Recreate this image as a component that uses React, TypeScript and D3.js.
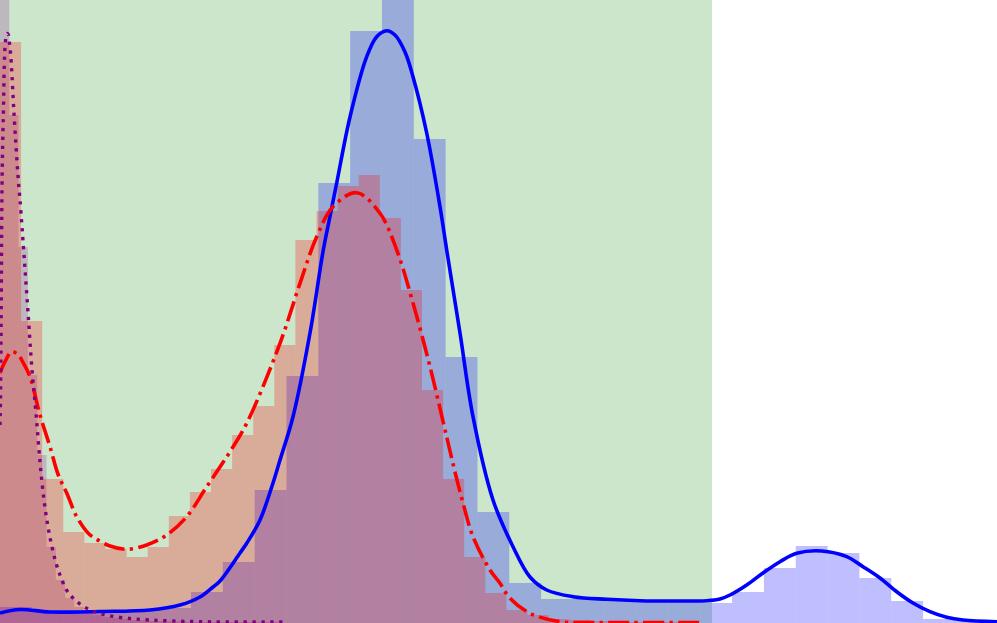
import React from "react";
import * as d3 from "d3";

// ---- data (x in data units, y in density units) ----
const highlightRange = [0, 7.12];

const blueBinWidth = 0.3183;
const blueHist = [0.16, 0.11, 0.10, 0.12, 0.14, 0.15, 0.31, 0.61, 1.33, 2.47, 4.40, 5.92, 6.60, 4.84, 2.66, 1.11, 0.40, 0.24, 0.24, 0.23, 0.23, 0.23, 0.20, 0.31, 0.55, 0.77, 0.70, 0.45, 0.22, 0.04, 0.02];

const redBinWidth = 0.211;
const redHist = [5.81, 3.02, 1.44, 0.91, 0.80, 0.74, 0.66, 0.76, 1.07, 1.31, 1.54, 1.88, 2.17, 2.78, 3.83, 4.12, 4.37, 4.48, 4.05, 3.33, 2.33, 1.44, 0.66, 0.30, 0.13, 0.08, 0.04, 0.03, 0.02, 0.01, 0.01, 0.01, 0.01];

const purpleBinWidth = 0.093;
const purpleHist = [6.63, 5.08, 3.76, 2.48, 1.68, 0.76, 0.43, 0.25, 0.16, 0.11, 0.08, 0.06, 0.05, 0.04, 0.03, 0.03, 0.02, 0.02, 0.02, 0.02, 0.01, 0.01, 0.01, 0.01, 0.01, 0.01, 0.01, 0.01, 0.01, 0.01];

const blueKdeX = [0, 0.20, 0.50, 1.00, 1.50, 1.80, 2.00, 2.13, 2.20, 2.40, 2.467, 2.60, 2.73, 2.80, 2.93, 3.10, 3.233, 3.307, 3.367, 3.50, 3.667, 3.767, 3.867, 3.95, 4.05, 4.13, 4.267, 4.40, 4.467, 4.60, 4.73, 4.93, 5.13, 5.30, 5.467, 5.73, 6.067, 6.40, 6.73, 7.067, 7.20, 7.30, 7.467, 7.63, 7.80, 7.967, 8.217, 8.467, 8.63, 8.80, 8.967, 9.13, 9.30, 9.467, 9.63, 9.97];
const blueKdeY = [0.10, 0.135, 0.11, 0.115, 0.13, 0.18, 0.26, 0.36, 0.42, 0.70, 0.797, 1.03, 1.40, 1.63, 2.063, 2.90, 3.73, 4.10, 4.40, 5.06, 5.663, 5.863, 5.923, 5.88, 5.71, 5.463, 4.90, 4.163, 3.73, 2.90, 2.063, 1.23, 0.763, 0.46, 0.33, 0.263, 0.237, 0.223, 0.22, 0.223, 0.24, 0.28, 0.38, 0.50, 0.613, 0.697, 0.72, 0.663, 0.563, 0.45, 0.313, 0.20, 0.113, 0.057, 0.03, 0.013];

const redKdeX = [0, 0.05, 0.117, 0.183, 0.233, 0.30, 0.40, 0.50, 0.583, 0.667, 0.767, 0.883, 0.95, 1.10, 1.267, 1.467, 1.667, 1.867, 2.067, 2.30, 2.467, 2.80, 3.00, 3.167, 3.33, 3.567, 3.80, 3.967, 4.13, 4.30, 4.467, 4.55, 4.63, 4.73, 4.90, 5.00, 5.10, 5.30, 5.60, 5.83, 6.30, 7.00];
const redKdeY = [2.50, 2.613, 2.713, 2.68, 2.60, 2.463, 2.08, 1.763, 1.48, 1.30, 1.063, 0.897, 0.847, 0.77, 0.737, 0.78, 0.88, 1.063, 1.363, 1.713, 1.997, 2.797, 3.397, 3.863, 4.163, 4.303, 4.097, 3.73, 3.20, 2.563, 1.86, 1.51, 1.20, 0.863, 0.53, 0.397, 0.247, 0.097, 0.013, 0.005, 0.005, 0.005];

const purpleKdeX = [0, 0.005, 0.01, 0.014, 0.018, 0.023, 0.03, 0.035, 0.04, 0.046, 0.053, 0.063, 0.075, 0.085, 0.093, 0.107, 0.12, 0.137, 0.16, 0.183, 0.20, 0.24, 0.28, 0.32, 0.36, 0.40, 0.44, 0.48, 0.52, 0.56, 0.60, 0.66, 0.72, 0.80, 0.90, 1.00, 1.17, 1.50, 2.00, 2.88];
const purpleKdeY = [1.98, 2.23, 2.83, 3.43, 4.13, 4.58, 4.93, 5.15, 5.45, 5.68, 5.80, 5.87, 5.895, 5.88, 5.81, 5.68, 5.47, 5.15, 4.77, 4.43, 4.23, 3.68, 3.11, 2.53, 2.10, 1.61, 1.23, 0.96, 0.76, 0.60, 0.48, 0.34, 0.26, 0.19, 0.13, 0.095, 0.06, 0.03, 0.013, 0.01];

const W = 997;
const H = 623;

export default function App() {
  const x = d3.scaleLinear().domain([0, 9.97]).range([0, W]);
  const y = d3.scaleLinear().domain([0, 6.23]).range([H, 0]);

  const bars = (vals: number[], bw: number, color: string, op: number, key: string) =>
    vals.map((v, i) => {
      const x0 = x(i * bw);
      const x1 = x((i + 1) * bw);
      return (
        <rect
          key={key + i}
          x={x0}
          y={y(v)}
          width={x1 - x0}
          height={y(0) - y(v)}
          fill={color}
          fillOpacity={op}
        />
      );
    });

  const line = d3
    .line<[number, number]>()
    .x((d) => x(d[0]))
    .y((d) => y(d[1]))
    .curve(d3.curveCatmullRom.alpha(0.5));

  const zip = (a: number[], b: number[]) => a.map((v, i) => [v, b[i]] as [number, number]);

  return (
    <svg
      width={W}
      height={H}
      style={{ position: "absolute", left: 0, top: 0, display: "block", background: "#fff" }}
    >
      <rect
        x={x(highlightRange[0])}
        y={0}
        width={x(highlightRange[1]) - x(highlightRange[0])}
        height={H}
        fill="green"
        fillOpacity={0.2}
      />
      {bars(blueHist, blueBinWidth, "blue", 0.25, "b")}
      {bars(purpleHist, purpleBinWidth, "purple", 0.2, "p")}
      {bars(redHist, redBinWidth, "red", 0.25, "r")}
      <path d={line(zip(blueKdeX, blueKdeY)) || ""} fill="none" stroke="blue" strokeWidth={3.6} />
      <path
        d={line(zip(redKdeX, redKdeY)) || ""}
        fill="none"
        stroke="red"
        strokeWidth={3.6}
        strokeDasharray="21 5.3 3.3 5.3"
      />
      <path
        d={line(zip(purpleKdeX, purpleKdeY)) || ""}
        fill="none"
        stroke="purple"
        strokeWidth={3.4}
        strokeDasharray="3.3 5.6"
      />
    </svg>
  );
}
